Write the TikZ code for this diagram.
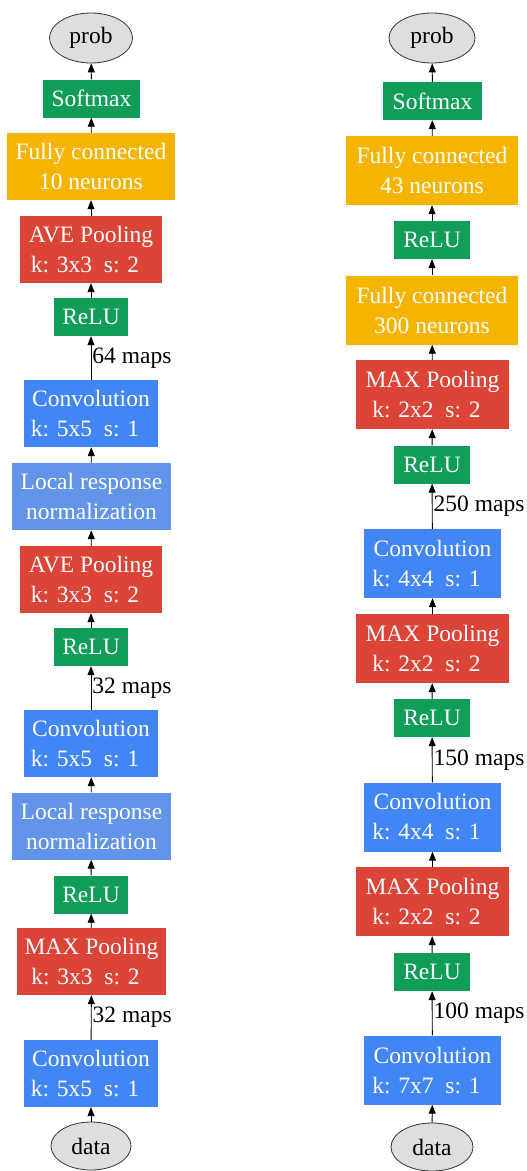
\documentclass[tikz,border=0pt]{standalone}
\usepackage{fontspec}
\setmainfont{Liberation Serif}
\usetikzlibrary{arrows.meta,shapes.geometric}
\definecolor{gGreen}{HTML}{0F9D58}
\definecolor{gYellow}{HTML}{F4B400}
\definecolor{gRed}{HTML}{DB4437}
\definecolor{gBlue}{HTML}{4285F4}
\definecolor{gLrn}{HTML}{6294EA}
\definecolor{gEll}{HTML}{DEDEDE}
\definecolor{gEdge}{HTML}{333333}
\tikzset{
  blk/.style={rectangle, inner sep=0pt, text=white, align=center,
    font=\fontsize{23.5}{30}\selectfont},
  relu/.style={blk, fill=gGreen, minimum height=38pt},
  fc/.style={blk, fill=gYellow},
  pool/.style={blk, fill=gRed},
  conv/.style={blk, fill=gBlue},
  lrn/.style={blk, fill=gLrn},
  term/.style={ellipse, draw=gEdge, line width=0.8pt, fill=gEll, inner sep=0pt,
    font=\fontsize{23.5}{30}\selectfont},
  flow/.style={-{Triangle[length=9pt,width=7pt]}, line width=0.9pt, black},
  lbl/.style={anchor=west, inner sep=1pt, font=\fontsize{23.5}{30}\selectfont}
}
\newcommand{\kline}[1]{#1\hspace*{12pt}}
\begin{document}
\begin{tikzpicture}[x=1pt,y=-1pt]
\useasboundingbox (0,0) rectangle (527,1171);
% ---------- left column ----------
\node[term, minimum width=83pt, minimum height=50pt] (Lprob) at (91,38) {prob};
\node[relu, fill=gGreen, minimum width=97pt] (Lsoft) at (91.5,98.5) {Softmax};
\node[fc, minimum width=168pt, minimum height=67pt] (Lfc) at (91,166.5) {Fully connected\\10 neurons};
\node[pool, minimum width=142pt, minimum height=67pt] (Lpool3) at (91,249.5) {AVE Pooling\\\kline{k: 3x3\ \ s: 2}};
\node[relu, minimum width=74pt] (Lrelu3) at (91,317) {ReLU};
\node[conv, minimum width=134pt, minimum height=67pt] (Lconv3) at (91,413.5) {Convolution\\\kline{k: 5x5\ \ s: 1}};
\node[lrn, minimum width=159pt, minimum height=67pt] (Llrn2) at (91.5,496.5) {Local response\\normalization};
\node[pool, minimum width=142pt, minimum height=67pt] (Lpool2) at (91,579.5) {AVE Pooling\\\kline{k: 3x3\ \ s: 2}};
\node[relu, minimum width=74pt] (Lrelu2) at (91,647) {ReLU};
\node[conv, minimum width=134pt, minimum height=67pt] (Lconv2) at (91,743.5) {Convolution\\\kline{k: 5x5\ \ s: 1}};
\node[lrn, minimum width=159pt, minimum height=67pt] (Llrn1) at (91.5,826) {Local response\\normalization};
\node[relu, minimum width=74pt] (Lrelu1) at (91,894.5) {ReLU};
\node[pool, minimum width=149pt, minimum height=67pt] (Lpool1) at (91.5,961.5) {MAX Pooling\\\kline{k: 3x3\ \ s: 2}};
\node[conv, minimum width=134pt, minimum height=67pt] (Lconv1) at (91,1073.5) {Convolution\\\kline{k: 5x5\ \ s: 1}};
\node[term, minimum width=80pt, minimum height=48pt] (Ldata) at (91,1146) {data};
\draw[flow] (Lsoft) -- (Lprob);
\draw[flow] (Lfc) -- (Lsoft);
\draw[flow] (Lpool3) -- (Lfc);
\draw[flow] (Lrelu3) -- (Lpool3);
\draw[flow] (Lconv3) -- node[lbl] {64 maps} (Lrelu3);
\draw[flow] (Llrn2) -- (Lconv3);
\draw[flow] (Lpool2) -- (Llrn2);
\draw[flow] (Lrelu2) -- (Lpool2);
\draw[flow] (Lconv2) -- node[lbl] {32 maps} (Lrelu2);
\draw[flow] (Llrn1) -- (Lconv2);
\draw[flow] (Lrelu1) -- (Llrn1);
\draw[flow] (Lpool1) -- (Lrelu1);
\draw[flow] (Lconv1) -- node[lbl] {32 maps} (Lpool1);
\draw[flow] (Ldata) -- (Lconv1);
% ---------- right column ----------
\node[term, minimum width=86pt, minimum height=50pt] (Rprob) at (432,38) {prob};
\node[relu, minimum width=99pt] (Rsoft) at (432.5,101) {Softmax};
\node[fc, minimum width=172pt, minimum height=69pt] (Rfc2) at (432,170.5) {Fully connected\\43 neurons};
\node[relu, minimum width=76pt] (Rrelu4) at (432,240) {ReLU};
\node[fc, minimum width=172pt, minimum height=69pt] (Rfc1) at (432,310) {Fully connected\\300 neurons};
\node[pool, minimum width=153pt, minimum height=69pt] (Rpool3) at (432.5,394.5) {MAX Pooling\\\kline{k: 2x2\ \ s: 2}};
\node[relu, minimum width=76pt] (Rrelu3) at (432,464.5) {ReLU};
\node[conv, minimum width=137pt, minimum height=69pt] (Rconv3) at (432.5,563.5) {Convolution\\\kline{k: 4x4\ \ s: 1}};
\node[pool, minimum width=153pt, minimum height=69pt] (Rpool2) at (432.5,648.5) {MAX Pooling\\\kline{k: 2x2\ \ s: 2}};
\node[relu, minimum width=76pt] (Rrelu2) at (432,718) {ReLU};
\node[conv, minimum width=137pt, minimum height=69pt] (Rconv2) at (432.5,817) {Convolution\\\kline{k: 4x4\ \ s: 1}};
\node[pool, minimum width=153pt, minimum height=69pt] (Rpool1) at (432.5,901.5) {MAX Pooling\\\kline{k: 2x2\ \ s: 2}};
\node[relu, minimum width=76pt] (Rrelu1) at (432,972) {ReLU};
\node[conv, minimum width=137pt, minimum height=69pt] (Rconv1) at (432.5,1070) {Convolution\\\kline{k: 7x7\ \ s: 1}};
\node[term, minimum width=82pt, minimum height=48pt] (Rdata) at (432,1147) {data};
\draw[flow] (Rsoft) -- (Rprob);
\draw[flow] (Rfc2) -- (Rsoft);
\draw[flow] (Rrelu4) -- (Rfc2);
\draw[flow] (Rfc1) -- (Rrelu4);
\draw[flow] (Rpool3) -- (Rfc1);
\draw[flow] (Rrelu3) -- (Rpool3);
\draw[flow] (Rconv3) -- node[lbl] {250 maps} (Rrelu3);
\draw[flow] (Rpool2) -- (Rconv3);
\draw[flow] (Rrelu2) -- (Rpool2);
\draw[flow] (Rconv2) -- node[lbl] {150 maps} (Rrelu2);
\draw[flow] (Rpool1) -- (Rconv2);
\draw[flow] (Rrelu1) -- (Rpool1);
\draw[flow] (Rconv1) -- node[lbl] {100 maps} (Rrelu1);
\draw[flow] (Rdata) -- (Rconv1);
\end{tikzpicture}
\end{document}
